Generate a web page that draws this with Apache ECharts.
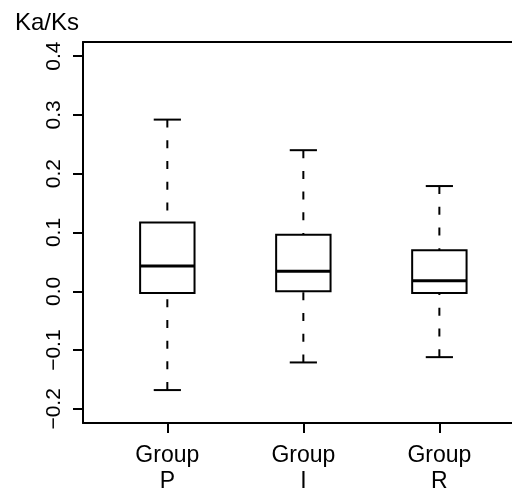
<!DOCTYPE html>
<html>
<head>
<meta charset="utf-8">
<script src="https://cdn.jsdelivr.net/npm/echarts@6/dist/echarts.min.js"></script>
<style>html,body{margin:0;padding:0;background:#fff;}#chart{width:512px;height:492px;}</style>
</head>
<body>
<div id="chart"></div>
<script>
// Data
var categories = ['Group\nP', 'Group\nI', 'Group\nR'];
var whiskerLow = [-0.168, -0.121, -0.112];
var q1 = [-0.003, 0.000, -0.003];
var median = [0.043, 0.034, 0.018];
var q3 = [0.117, 0.096, 0.070];
var whiskerHigh = [0.292, 0.240, 0.179];
var yTicks = [-0.2, -0.1, 0.0, 0.1, 0.2, 0.3, 0.4];
var xPositions = [1, 2, 3];

var FONT = '"Liberation Sans", Arial, Helvetica, sans-serif';

var boxData = categories.map(function (c, i) {
  return [xPositions[i], whiskerLow[i], q1[i], median[i], q3[i], whiskerHigh[i]];
});

function renderItem(params, api) {
  var x = api.value(0);
  var lo = api.coord([x, api.value(1)]);
  var a = api.coord([x, api.value(2)]);
  var m = api.coord([x, api.value(3)]);
  var b = api.coord([x, api.value(4)]);
  var hi = api.coord([x, api.value(5)]);
  var boxW = api.size([0.4, 0])[0];
  var capW = boxW / 2;
  var cx = lo[0];
  var solid = {stroke: '#000', lineWidth: 2, fill: null};
  var dashed = {stroke: '#000', lineWidth: 2, lineDash: [8, 12.7], fill: null};
  return {
    type: 'group',
    children: [
      {type: 'line', shape: {x1: cx, y1: hi[1], x2: cx, y2: b[1]}, style: dashed},
      {type: 'line', shape: {x1: cx, y1: lo[1], x2: cx, y2: a[1]}, style: dashed},
      {type: 'line', shape: {x1: cx - capW / 2, y1: hi[1], x2: cx + capW / 2, y2: hi[1]}, style: solid},
      {type: 'line', shape: {x1: cx - capW / 2, y1: lo[1], x2: cx + capW / 2, y2: lo[1]}, style: solid},
      {type: 'rect', shape: {x: cx - boxW / 2, y: b[1], width: boxW, height: a[1] - b[1]}, style: {stroke: '#000', lineWidth: 2, fill: '#fff'}},
      {type: 'line', shape: {x1: cx - boxW / 2, y1: m[1], x2: cx + boxW / 2, y2: m[1]}, style: {stroke: '#000', lineWidth: 3}}
    ]
  };
}

var axisLineStyle = {color: '#000', width: 2};

var chart = echarts.init(document.getElementById('chart'), null, {renderer: 'canvas'});
chart.setOption({
  backgroundColor: '#fff',
  animation: false,
  title: {
    text: 'Ka/Ks', left: 10, top: 6,
    textStyle: {fontFamily: FONT, fontSize: 24, fontWeight: 'normal', color: '#000'}
  },
  grid: {left: 83, top: 42, right: 0, height: 381, show: false, containLabel: false, outerBoundsMode: 'none'},
  xAxis: [{
    type: 'value', min: 0.38, max: 3.534, position: 'bottom',
    splitLine: {show: false},
    axisLine: {show: true, onZero: false, lineStyle: axisLineStyle},
    axisTick: {show: true, length: 10, customValues: xPositions, lineStyle: {color: '#000', width: 2}},
    axisLabel: {
      show: true, customValues: xPositions, margin: 20,
      formatter: function (v) { return categories[Math.round(v) - 1]; },
      fontFamily: FONT, fontSize: 23, lineHeight: 26, color: '#000'
    }
  }, {
    type: 'value', min: 0.38, max: 3.534, position: 'top',
    splitLine: {show: false},
    axisLine: {show: true, onZero: false, lineStyle: axisLineStyle},
    axisTick: {show: false},
    axisLabel: {show: false}
  }],
  yAxis: {
    type: 'value', min: -0.224, max: 0.424,
    splitLine: {show: false},
    axisLine: {show: true, onZero: false, lineStyle: axisLineStyle},
    axisTick: {show: true, length: 10, customValues: yTicks, lineStyle: {color: '#000', width: 2}},
    axisLabel: {
      show: true, customValues: yTicks, rotate: 90, margin: 18,
      formatter: function (v) { return v.toFixed(1).replace('-', '\u2212'); },
      fontFamily: FONT, fontSize: 21, color: '#000'
    }
  },
  series: [{
    type: 'custom',
    renderItem: renderItem,
    encode: {x: 0, y: [1, 2, 3, 4, 5]},
    data: boxData,
    clip: false
  }]
});
</script>
</body>
</html>
